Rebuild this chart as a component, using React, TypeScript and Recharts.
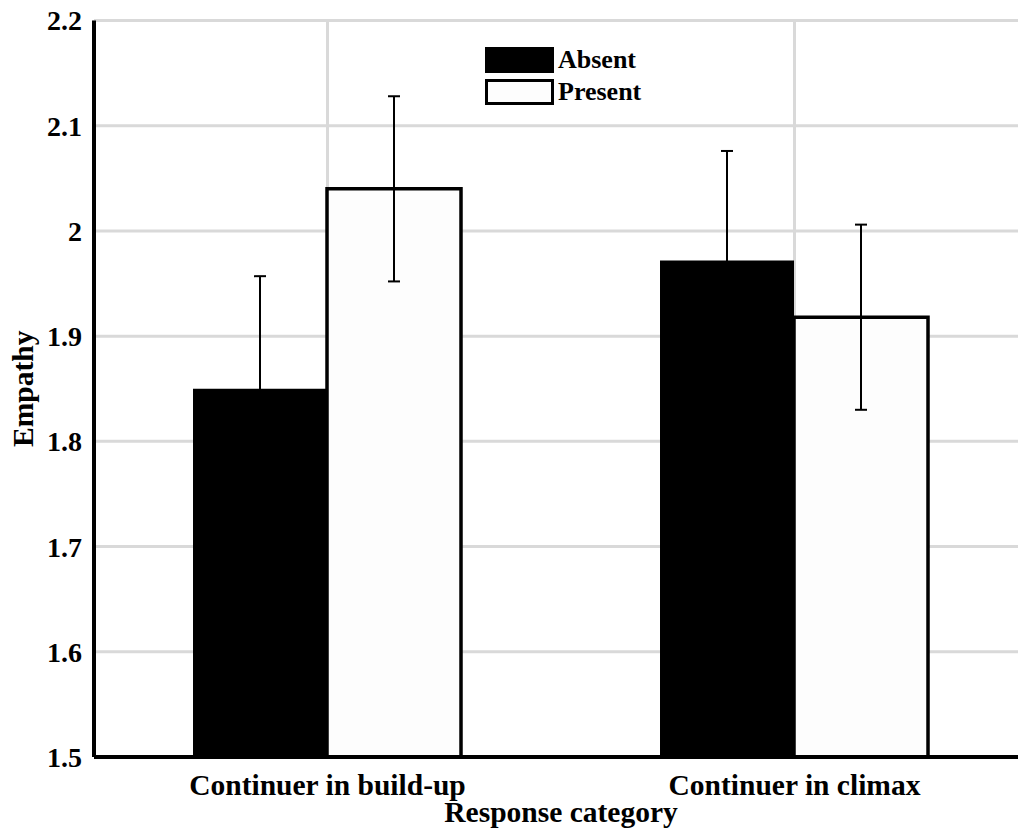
import { BarChart, Bar, XAxis, YAxis, CartesianGrid, ErrorBar, Legend } from "recharts";

const categories = ["Continuer in build-up", "Continuer in climax"];
const absentMeans = [1.85, 1.972];
const presentMeans = [2.04, 1.918];
const absentErrors = [0.107, 0.104];
const presentErrors = [0.088, 0.088];
const yTicks = [1.5, 1.6, 1.7, 1.8, 1.9, 2, 2.1, 2.2];

const data = categories.map((name, i) => ({
  name,
  absent: absentMeans[i],
  absentErr: absentErrors[i],
  present: presentMeans[i],
  presentErr: presentErrors[i],
}));

const font = "Liberation Serif, Tinos, DejaVu Serif, serif";

const renderLegend = (props: any) => {
  const { payload } = props;
  return (
    <div style={{ fontFamily: font, fontWeight: "bold", fontSize: 26, color: "#000" }}>
      {payload.map((entry: any) => (
        <div key={entry.value} style={{ display: "flex", alignItems: "center", height: 26, marginBottom: 6 }}>
          <div
            style={{
              width: 69,
              height: 26,
              boxSizing: "border-box",
              border: "3px solid #000",
              background: entry.payload?.fill ?? entry.color,
              marginRight: 4,
            }}
          />
          <span style={{ lineHeight: "26px" }}>{entry.value}</span>
        </div>
      ))}
    </div>
  );
};

export default function App() {
  return (
    <div style={{ position: "absolute", left: 0, top: 0, width: 1018, height: 836, overflow: "hidden", background: "#fff" }}>
      <BarChart
        width={1028}
        height={836}
        data={data}
        margin={{ top: 20.5, right: 0, bottom: 0, left: 0 }}
        barCategoryGap="21.2%"
        barGap={0}
      >
        <CartesianGrid stroke="#d9d9d9" strokeWidth={3} />
        <XAxis
          dataKey="name"
          height={79}
          tickLine={false}
          tickMargin={11}
          axisLine={{ stroke: "#000", strokeWidth: 4 }}
          tick={{ fill: "#000", fontSize: 29.5, fontWeight: "bold", fontFamily: font }}
          label={{
            value: "Response category",
            position: "insideBottom",
            offset: 14,
            fill: "#000",
            fontSize: 29.5,
            fontWeight: "bold",
            fontFamily: font,
          }}
        />
        <YAxis
          width={94}
          domain={[1.5, 2.2]}
          ticks={yTicks}
          tickLine={false}
          tickMargin={6}
          axisLine={{ stroke: "#000", strokeWidth: 4 }}
          tick={{ fill: "#000", fontSize: 28, fontWeight: "bold", fontFamily: font }}
          label={{
            value: "Empathy",
            angle: -90,
            position: "insideLeft",
            offset: 22.5,
            fill: "#000",
            fontSize: 29.5,
            fontWeight: "bold",
            fontFamily: font,
            style: { textAnchor: "middle" },
          }}
        />
        <Legend
          layout="vertical"
          align="center"
          verticalAlign="middle"
          content={renderLegend}
          wrapperStyle={{ top: 47, left: 485, width: "auto", height: "auto" }}
        />
        <Bar dataKey="absent" name="Absent" fill="#000" isAnimationActive={false}>
          <ErrorBar dataKey="absentErr" width={6} stroke="#000" strokeWidth={2} />
        </Bar>
        <Bar dataKey="present" name="Present" fill="#fdfdfd" stroke="#000" strokeWidth={3.5} isAnimationActive={false}>
          <ErrorBar dataKey="presentErr" width={6} stroke="#000" strokeWidth={2} />
        </Bar>
      </BarChart>
    </div>
  );
}
